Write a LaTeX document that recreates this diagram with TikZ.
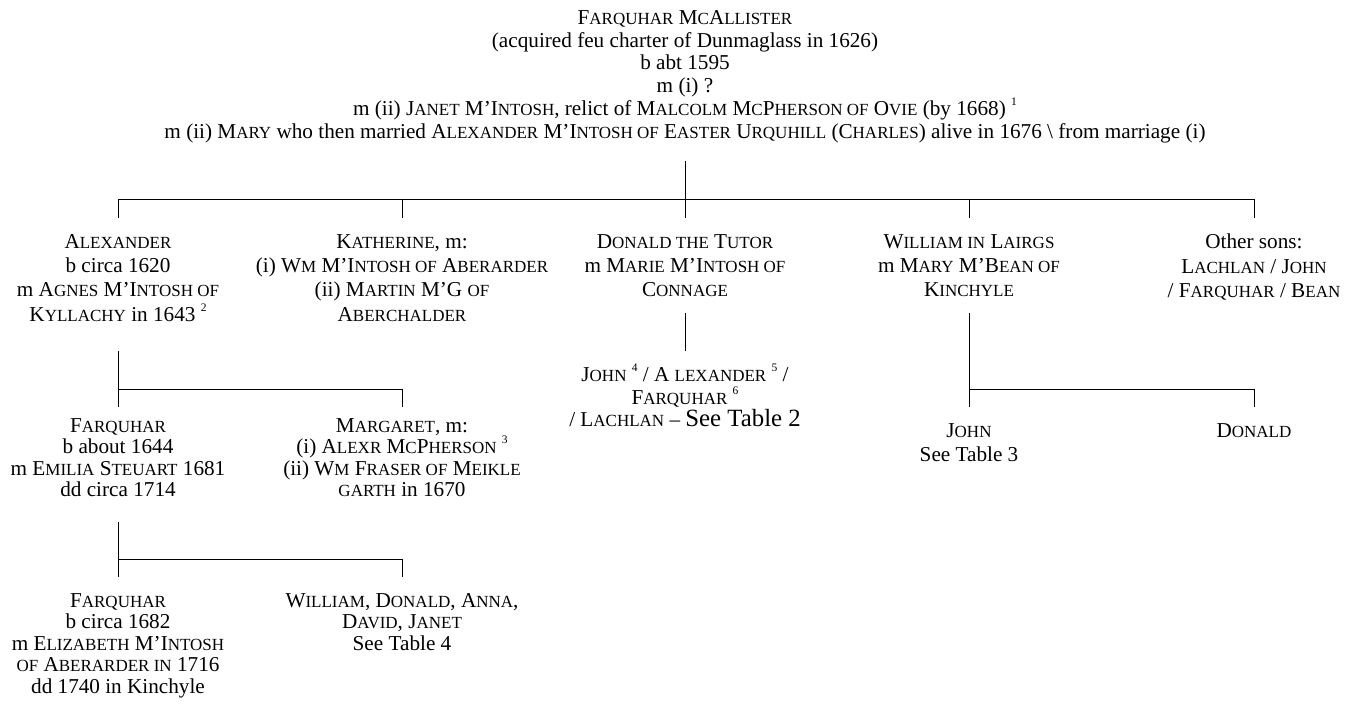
\documentclass[tikz,border=0pt]{standalone}
\usepackage{fontspec}
\setmainfont{Liberation Serif}
\newcommand\sk[1]{{\fontsize{17}{17}\selectfont #1}}
\newcommand\fnum[1]{\raisebox{0.48em}{\fontsize{11.5}{11.5}\selectfont #1}}
\newcommand\bigtxt[1]{{\fontsize{24.8}{24.8}\selectfont #1}}
\newcommand\nolskip{\lineskiplimit -30pt\relax}
\begin{document}
\begin{tikzpicture}[x=1pt,y=-1pt,
  person/.style={font=\fontsize{21.2}{21.5}\selectfont\nolskip, align=center, inner sep=0pt, anchor=north},
  toptext/.style={person, font=\fontsize{21.2}{22.9}\selectfont\nolskip},
  gen2/.style={person, font=\fontsize{21.2}{24.4}\selectfont\nolskip},
  kids/.style={person, font=\fontsize{21.2}{22.5}\selectfont\nolskip},
  link/.style={line width=0.8pt, draw=black}]
\useasboundingbox (0,0) rectangle (1354,709);

% top
\node[toptext] (top) at (685,10) {%
F\sk{ARQUHAR} M\sk{C}A\sk{LLISTER}\\
(acquired feu charter of Dunmaglass in 1626)\\
b abt 1595\\
m (i) ?\\
m (ii) J\sk{ANET} M’I\sk{NTOSH}, relict of M\sk{ALCOLM} M\sk{C}P\sk{HERSON OF} O\sk{VIE} (by 1668) \fnum{1}\\
m (ii) M\sk{ARY} who then married A\sk{LEXANDER} M’I\sk{NTOSH OF} E\sk{ASTER} U\sk{RQUHILL} (C\sk{HARLES}) alive in 1676 \textbackslash{} from marriage (i)};

% level 2
\node[gen2] (alex) at (118,234) {A\sk{LEXANDER}\\ b circa 1620\\ m A\sk{GNES} M’I\sk{NTOSH OF}\\ K\sk{YLLACHY} in 1643 \fnum{2}};
\node[gen2] (kath) at (402,234) {K\sk{ATHERINE}, m:\\ (i) W\sk{M} M’I\sk{NTOSH OF} A\sk{BERARDER}\\ (ii) M\sk{ARTIN} M’G \sk{OF}\\ A\sk{BERCHALDER}};
\node[gen2] (don) at (685,234) {D\sk{ONALD THE} T\sk{UTOR}\\ m M\sk{ARIE} M’I\sk{NTOSH OF}\\ C\sk{ONNAGE}};
\node[gen2] (will) at (969,234) {W\sk{ILLIAM IN} L\sk{AIRGS}\\ m M\sk{ARY} M’B\sk{EAN OF}\\ K\sk{INCHYLE}};
\node[gen2] (oth) at (1254,234) {Other sons:\\ L\sk{ACHLAN} / J\sk{OHN}\\ / F\sk{ARQUHAR} / B\sk{EAN}};

% level 3
\node[person] (farq1) at (118,418) {F\sk{ARQUHAR}\\ b about 1644\\ m E\sk{MILIA} S\sk{TEUART} 1681\\ dd circa 1714};
\node[person] (marg) at (402,418) {M\sk{ARGARET}, m:\\ (i) A\sk{LEXR} M\sk{C}P\sk{HERSON} \fnum{3}\\ (ii) W\sk{M} F\sk{RASER OF} M\sk{EIKLE}\\ \sk{GARTH} in 1670};
\node[kids] (donkids) at (685,364) {J\sk{OHN} \fnum{4} / A \sk{LEXANDER} \fnum{5} /\\ F\sk{ARQUHAR} \fnum{6}\\ / L\sk{ACHLAN} -- \bigtxt{See Table 2}};
\node[gen2] (john) at (969,423) {J\sk{OHN}\\ See Table 3};
\node[person] (donald) at (1254,423) {D\sk{ONALD}};

% level 4
\node[person] (farq2) at (118,593) {F\sk{ARQUHAR}\\ b circa 1682\\ m E\sk{LIZABETH} M’I\sk{NTOSH}\\ \sk{OF} A\sk{BERARDER IN} 1716\\ dd 1740 in Kinchyle};
\node[person] (rest) at (402,593) {W\sk{ILLIAM}, D\sk{ONALD}, A\sk{NNA},\\ D\sk{AVID}, J\sk{ANET}\\ See Table 4};

% junction coordinates
\coordinate (t0) at (685,161);
\coordinate (t1) at (685,199);
\coordinate (h1) at (118,199);
\coordinate (h2) at (402,199);
\coordinate (h4) at (969,199);
\coordinate (h5) at (1254,199);
\coordinate (d1) at (118,218);
\coordinate (d2) at (402,218);
\coordinate (d3) at (685,218);
\coordinate (d4) at (969,218);
\coordinate (d5) at (1254,218);
\draw[link] (t0) -- (d3);
\draw[link] (h1) -- (h5);
\draw[link] (h1) -- (d1);
\draw[link] (h2) -- (d2);
\draw[link] (h4) -- (d4);
\draw[link] (h5) -- (d5);

% Alexander's children
\coordinate (a0) at (118,351);
\coordinate (a1) at (118,389);
\coordinate (a2) at (402,389);
\coordinate (a1d) at (118,407);
\coordinate (a2d) at (402,407);
\draw[link] (a0) -- (a1d);
\draw[link] (a1) -- (a2) -- (a2d);

% Donald's children
\coordinate (n0) at (685,313);
\coordinate (n1) at (685,351);
\draw[link] (n0) -- (n1);

% William's children
\coordinate (w0) at (969,313);
\coordinate (w1) at (969,389);
\coordinate (w2) at (1254,389);
\coordinate (w1d) at (969,407);
\coordinate (w2d) at (1254,407);
\draw[link] (w0) -- (w1d);
\draw[link] (w1) -- (w2) -- (w2d);

% Farquhar's children
\coordinate (f0) at (118,522);
\coordinate (f1) at (118,559);
\coordinate (f2) at (402,559);
\coordinate (f1d) at (118,577);
\coordinate (f2d) at (402,577);
\draw[link] (f0) -- (f1d);
\draw[link] (f1) -- (f2) -- (f2d);
\end{tikzpicture}
\end{document}
